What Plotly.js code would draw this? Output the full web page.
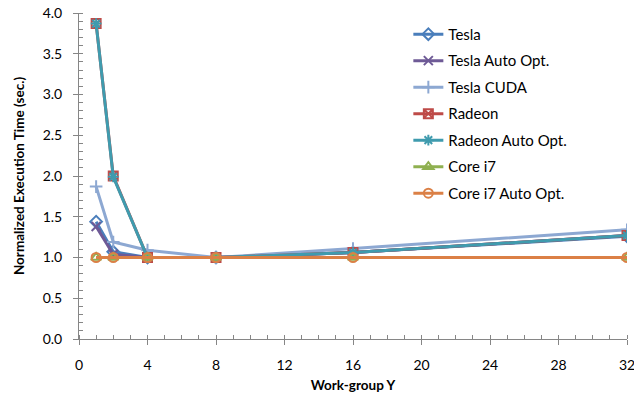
<!DOCTYPE html>
<html><head><meta charset="utf-8">
<script src="https://cdn.plot.ly/plotly-3.0.1.min.js"></script>
<style>body{margin:0;background:#fff}#c{width:634px;height:394px}</style>
</head><body><div id="c"></div>
<script>
const xVals = [1, 2, 4, 8, 16, 32];
const seriesNames = ["Tesla", "Tesla Auto Opt.", "Tesla CUDA", "Radeon", "Radeon Auto Opt.", "Core i7", "Core i7 Auto Opt."];
const tesla = [1.44, 1.07, 1.0, 1.0, 1.06, 1.26];
const teslaAuto = [1.38, 1.04, 1.0, 1.0, 1.06, 1.27];
const teslaCuda = [1.87, 1.19, 1.09, 1.0, 1.11, 1.34];
const radeon = [3.87, 2.0, 1.0, 1.0, 1.06, 1.27];
const radeonAuto = [3.87, 1.99, 1.0, 1.0, 1.06, 1.27];
const corei7 = [1.0, 1.0, 1.0, 1.0, 1.0, 1.0];
const corei7Auto = [1.0, 1.0, 1.0, 1.0, 1.0, 1.0];
const xTicks = [0, 4, 8, 12, 16, 20, 24, 28, 32];
const yTicks = [0, 0.5, 1, 1.5, 2, 2.5, 3, 3.5, 4];

const allY = [tesla, teslaAuto, teslaCuda, radeon, radeonAuto, corei7, corei7Auto];
const colors = ["#4A7EBB", "#6E5A96", "#8DA8D2", "#BE4B48", "#3F9BAE", "#8FB050", "#DB8046"];
const symbols = ["diamond-open", "x-thin-open", "cross-thin-open", "square-x-open", "asterisk-open", "triangle-up-open", "circle-open"];

const traces = allY.map((y, i) => ({
  x: xVals, y: y, name: seriesNames[i], type: "scatter", mode: "lines+markers",
  line: {color: colors[i], width: 3},
  marker: {symbol: symbols[i], size: 9, color: colors[i], line: {color: colors[i], width: 2}},
  legendgroup: "g" + i
}));

const font = "Lato, 'Open Sans', sans-serif";
const layout = {
  width: 634, height: 394,
  margin: {l: 79, r: 7, t: 13, b: 55},
  paper_bgcolor: "#fff", plot_bgcolor: "#fff",
  font: {family: font, size: 14, color: "#000"},
  showlegend: true,
  legend: {x: 0.601, y: 0.985, xanchor: "left", yanchor: "top", font: {family: font, size: 15},
           itemwidth: 30, tracegroupgap: 4, bgcolor: "rgba(0,0,0,0)"},
  xaxis: {range: [0, 32], tickvals: xTicks, ticktext: xTicks.map(String), showgrid: false, zeroline: false,
          showline: true, linecolor: "#868686", linewidth: 1, ticks: "outside", ticklen: 5, tickcolor: "#868686",
          ticklabelstandoff: 8, ticklabeloverflow: "allow", tickfont: {size: 14},
          minor: {dtick: 1, ticks: "inside", ticklen: 4, tickcolor: "#868686"},
          title: {text: "<b>Work-group Y</b>", font: {size: 13.5}, standoff: 8}},
  yaxis: {range: [0, 4], tickvals: yTicks, ticktext: yTicks.map(v => v.toFixed(1)), showgrid: false, zeroline: false,
          showline: true, linecolor: "#868686", linewidth: 1, ticks: "outside", ticklen: 5, tickcolor: "#868686",
          ticklabelstandoff: 8, ticklabeloverflow: "allow", tickfont: {size: 14},
          minor: {dtick: 0.1, ticks: "inside", ticklen: 4, tickcolor: "#868686"},
          title: {text: "<b>Normalized Execution Time (sec.)</b>", font: {size: 13.5}, standoff: 14}}
};
Plotly.newPlot("c", traces, layout, {displayModeBar: false});
</script></body></html>
